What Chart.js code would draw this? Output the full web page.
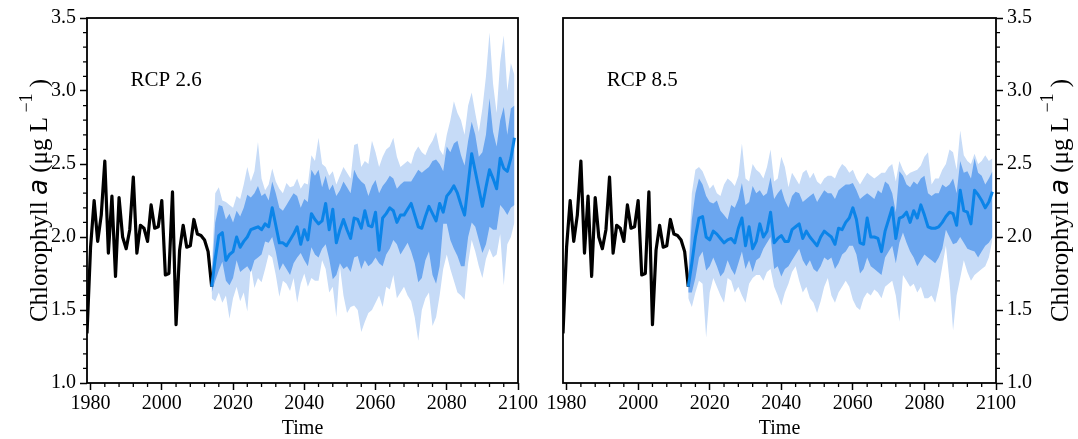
<!doctype html>
<html lang="en">
<head>
<meta charset="utf-8">
<title>Chlorophyll a, RCP 2.6 / RCP 8.5</title>
<script src="https://cdn.jsdelivr.net/npm/chart.js@4.4.1/dist/chart.umd.min.js"></script>
<style>
  body { margin: 0; background: #fff; }
  #wrap { position: relative; width: 1078px; height: 439px; }
  canvas { position: absolute; top: 0; }
  #left { left: 0; }
  #right { left: 538px; }
</style>
</head>
<body>
<div id="wrap">
  <canvas id="left" width="540" height="439"></canvas>
  <canvas id="right" width="540" height="439"></canvas>
</div>
<script>
// observed annual chlorophyll a, 1979-2014
const histStart = 1979;
const histChl = [1.34, 1.93, 2.25, 1.97, 2.15, 2.52, 1.89, 2.28, 1.73, 2.27,
                 2.00, 1.92, 2.05, 2.41, 1.89, 2.08, 2.06, 1.97, 2.22, 2.06,
                 2.07, 2.25, 1.74, 1.75, 2.31, 1.40, 1.91, 2.08, 1.93, 1.94,
                 2.12, 2.02, 2.01, 1.98, 1.90, 1.66];

// projections, 2014-2099
const projStart = 2014;

const rcp26Mean = [1.66, 1.85, 2.01, 2.03, 1.84, 1.88, 1.90, 2.00, 1.93, 1.97,
  2.00, 2.05, 2.06, 2.07, 2.05, 2.09, 2.07, 2.20, 2.08, 1.96,
  1.96, 1.94, 1.98, 2.02, 2.07, 1.95, 2.05, 1.98, 2.16, 2.12,
  2.09, 2.11, 2.23, 2.05, 2.19, 1.96, 2.05, 2.12, 2.05, 1.99,
  2.13, 2.12, 2.06, 2.18, 2.08, 2.07, 2.17, 1.91, 2.13, 2.16,
  2.20, 2.18, 2.10, 2.15, 2.15, 2.19, 2.23, 2.15, 2.07, 2.06,
  2.14, 2.21, 2.16, 2.11, 2.23, 2.17, 2.28, 2.31, 2.35, 2.30,
  2.22, 2.15, 2.36, 2.57, 2.45, 2.33, 2.21, 2.34, 2.46, 2.40,
  2.33, 2.54, 2.47, 2.45, 2.54, 2.68];
const rcp26InnerHi = [1.72, 2.10, 2.22, 2.21, 2.12, 2.16, 2.10, 2.18, 2.14, 2.20,
  2.29, 2.27, 2.30, 2.35, 2.28, 2.30, 2.25, 2.38, 2.30, 2.20,
  2.18, 2.22, 2.26, 2.30, 2.28, 2.20, 2.26, 2.24, 2.46, 2.42,
  2.46, 2.34, 2.42, 2.32, 2.36, 2.28, 2.32, 2.38, 2.34, 2.30,
  2.46, 2.41, 2.38, 2.36, 2.28, 2.35, 2.39, 2.30, 2.35, 2.38,
  2.42, 2.40, 2.33, 2.36, 2.38, 2.38, 2.38, 2.42, 2.46, 2.44,
  2.46, 2.48, 2.52, 2.53, 2.50, 2.45, 2.62, 2.58, 2.64, 2.66,
  2.56, 2.49, 2.66, 2.79, 2.70, 2.55, 2.58, 2.70, 2.95, 2.72,
  2.62, 2.80, 2.89, 2.70, 2.88, 2.90];
const rcp26InnerLo = [1.62, 1.70, 1.77, 1.83, 1.70, 1.67, 1.72, 1.84, 1.76, 1.78,
  1.80, 1.76, 1.84, 1.86, 1.88, 1.97, 1.96, 2.00, 1.90, 1.77,
  1.82, 1.78, 1.74, 1.82, 1.86, 1.89, 1.84, 1.80, 1.93, 1.88,
  1.86, 1.92, 1.95, 1.85, 1.71, 1.74, 1.82, 1.78, 1.80, 1.76,
  1.86, 1.87, 1.78, 1.84, 1.80, 1.82, 1.86, 1.82, 1.80, 1.88,
  1.92, 1.98, 1.95, 1.88, 1.92, 1.96, 1.90, 1.82, 1.69, 1.72,
  1.84, 1.90, 1.74, 1.68, 1.80, 2.09, 2.09, 1.98, 1.92, 1.87,
  1.80, 1.80, 2.00, 2.10, 2.07, 1.98, 1.89, 1.95, 2.07, 2.05,
  2.05, 2.22, 2.19, 2.15, 2.20, 2.22];
const rcp26OuterHi = [1.76, 2.30, 2.34, 2.25, 2.24, 2.22, 2.20, 2.28, 2.26, 2.36,
  2.48, 2.38, 2.45, 2.65, 2.40, 2.32, 2.36, 2.47, 2.38, 2.33,
  2.30, 2.37, 2.34, 2.35, 2.40, 2.33, 2.37, 2.36, 2.56, 2.52,
  2.68, 2.50, 2.48, 2.42, 2.45, 2.36, 2.42, 2.48, 2.44, 2.40,
  2.63, 2.64, 2.48, 2.52, 2.50, 2.66, 2.58, 2.48, 2.55, 2.60,
  2.62, 2.68, 2.55, 2.48, 2.50, 2.52, 2.50, 2.58, 2.62, 2.58,
  2.56, 2.62, 2.66, 2.72, 2.60, 2.56, 2.70, 2.80, 2.93, 2.85,
  2.80, 2.70, 2.90, 2.99, 2.85, 2.72, 2.88, 3.10, 3.40, 3.05,
  2.85, 3.20, 3.38, 3.00, 3.19, 3.11];
const rcp26OuterLo = [1.58, 1.56, 1.62, 1.55, 1.60, 1.44, 1.58, 1.66, 1.56, 1.62,
  1.49, 1.80, 1.65, 1.72, 1.69, 1.78, 1.88, 1.86, 1.74, 1.59,
  1.70, 1.68, 1.63, 1.72, 1.55, 1.68, 1.75, 1.66, 1.72, 1.70,
  1.70, 1.84, 1.78, 1.62, 1.66, 1.45, 1.80, 1.60, 1.48, 1.52,
  1.53, 1.50, 1.35, 1.42, 1.48, 1.50, 1.55, 1.60, 1.52, 1.66,
  1.64, 1.74, 1.58, 1.62, 1.66, 1.60, 1.56, 1.45, 1.29, 1.50,
  1.58, 1.62, 1.39, 1.45, 1.60, 1.78, 1.88, 1.78, 1.70, 1.62,
  1.60, 1.57, 1.82, 1.98, 1.90, 1.80, 1.72, 1.85, 1.92, 1.86,
  1.88, 2.02, 1.67, 1.95, 2.00, 2.10];

const rcp85Mean = [1.66, 1.82, 2.00, 2.13, 2.14, 2.00, 1.98, 2.04, 2.02, 1.99,
  1.96, 1.98, 1.99, 1.96, 2.06, 2.13, 1.94, 2.07, 1.92, 1.97,
  2.09, 2.00, 2.04, 2.17, 1.96, 1.99, 2.01, 1.97, 1.97, 2.05,
  2.07, 2.09, 1.99, 2.04, 2.00, 1.97, 1.94, 2.00, 2.04, 2.02,
  2.00, 1.95, 2.06, 2.05, 2.10, 2.13, 2.20, 2.12, 1.96, 1.95,
  2.13, 2.00, 2.00, 1.99, 1.90, 2.04, 2.12, 2.20, 1.99, 2.13,
  2.14, 2.17, 2.10, 2.18, 2.13, 2.22, 2.15, 2.07, 2.06, 2.06,
  2.07, 2.10, 2.14, 2.17, 2.16, 2.08, 2.32, 2.18, 2.17, 2.09,
  2.32, 2.29, 2.25, 2.20, 2.24, 2.31];
const rcp85InnerHi = [1.72, 2.12, 2.30, 2.40, 2.36, 2.28, 2.24, 2.23, 2.25, 2.18,
  2.15, 2.12, 2.22, 2.20, 2.26, 2.37, 2.22, 2.24, 2.35, 2.30,
  2.32, 2.28, 2.30, 2.41, 2.26, 2.30, 2.33, 2.25, 2.20, 2.28,
  2.31, 2.30, 2.24, 2.26, 2.28, 2.30, 2.24, 2.28, 2.32, 2.30,
  2.30, 2.26, 2.32, 2.34, 2.36, 2.36, 2.37, 2.32, 2.26, 2.28,
  2.30, 2.28, 2.26, 2.32, 2.30, 2.38, 2.36, 2.30, 2.17, 2.45,
  2.42, 2.36, 2.34, 2.38, 2.36, 2.40, 2.42, 2.30, 2.28, 2.30,
  2.30, 2.36, 2.34, 2.36, 2.40, 2.30, 2.52, 2.44, 2.45, 2.40,
  2.54, 2.44, 2.42, 2.36, 2.40, 2.45];
const rcp85InnerLo = [1.62, 1.62, 1.72, 1.86, 1.90, 1.77, 1.80, 1.86, 1.80, 1.73,
  1.76, 1.84, 1.78, 1.74, 1.82, 1.90, 1.78, 1.84, 1.76, 1.84,
  1.86, 1.92, 1.96, 2.00, 1.78, 1.80, 1.73, 1.78, 1.80, 1.84,
  1.88, 1.92, 1.84, 1.80, 1.84, 1.78, 1.76, 1.80, 1.86, 1.84,
  1.86, 1.78, 1.82, 1.88, 1.90, 1.94, 1.94, 1.88, 1.75, 1.78,
  1.86, 1.80, 1.78, 1.76, 1.74, 1.86, 1.90, 1.94, 1.82, 1.96,
  2.03, 1.96, 1.90, 1.86, 1.80, 1.84, 1.88, 1.86, 1.84, 1.82,
  1.86, 1.92, 2.05, 2.00, 1.95, 1.96, 2.00, 1.96, 1.92, 1.91,
  1.90, 1.86, 1.90, 1.94, 1.96, 2.00];
const rcp85OuterHi = [1.76, 2.30, 2.46, 2.48, 2.45, 2.39, 2.33, 2.36, 2.30, 2.28,
  2.36, 2.40, 2.38, 2.35, 2.42, 2.64, 2.40, 2.38, 2.50, 2.46,
  2.44, 2.40, 2.48, 2.60, 2.38, 2.40, 2.55, 2.48, 2.34, 2.44,
  2.40, 2.36, 2.44, 2.46, 2.40, 2.44, 2.38, 2.36, 2.40, 2.42,
  2.42, 2.40, 2.46, 2.50, 2.48, 2.44, 2.46, 2.40, 2.36, 2.40,
  2.44, 2.42, 2.40, 2.42, 2.44, 2.44, 2.48, 2.50, 2.38, 2.52,
  2.46, 2.42, 2.44, 2.45, 2.46, 2.49, 2.55, 2.58, 2.36, 2.40,
  2.40, 2.46, 2.50, 2.60, 2.58, 2.46, 2.73, 2.56, 2.52, 2.50,
  2.57, 2.50, 2.52, 2.56, 2.52, 2.54];
const rcp85OuterLo = [1.58, 1.52, 1.62, 1.70, 1.68, 1.31, 1.62, 1.72, 1.66, 1.60,
  1.55, 1.72, 1.70, 1.62, 1.66, 1.60, 1.55, 1.68, 1.72, 1.74,
  1.74, 1.70, 1.76, 1.78, 1.66, 1.60, 1.53, 1.62, 1.68, 1.76,
  1.80, 1.70, 1.62, 1.66, 1.58, 1.55, 1.48, 1.56, 1.66, 1.72,
  1.60, 1.55, 1.62, 1.66, 1.70, 1.66, 1.57, 1.52, 1.50, 1.58,
  1.62, 1.60, 1.64, 1.62, 1.58, 1.66, 1.68, 1.70, 1.60, 1.42,
  1.74, 1.70, 1.66, 1.68, 1.62, 1.66, 1.58, 1.58, 1.60, 1.55,
  1.66, 1.80, 1.94, 1.70, 1.36, 1.60, 1.72, 1.84, 1.76, 1.70,
  1.74, 1.76, 1.78, 1.80, 1.86, 1.98];

// axis ticks
const xMajor = [1980, 2000, 2020, 2040, 2060, 2080, 2100];
const xMinor = [1984, 1988, 1992, 1996, 2004, 2008, 2012, 2016, 2024, 2028, 2032, 2036,
                2044, 2048, 2052, 2056, 2064, 2068, 2072, 2076, 2084, 2088, 2092, 2096];
const yMajor = [1.0, 1.5, 2.0, 2.5, 3.0, 3.5];
const yMinor = [1.1, 1.2, 1.3, 1.4, 1.6, 1.7, 1.8, 1.9, 2.1, 2.2, 2.3, 2.4,
                2.6, 2.7, 2.8, 2.9, 3.1, 3.2, 3.3, 3.4];

const SERIF = '"Liberation Serif", "Times New Roman", serif';
const LIGHT = '#c6dbf7';
const DARK = '#6ba6ef';
const BLUE = '#0b84e8';

function toPoints(start, vals) {
  return vals.map((v, i) => ({ x: start + i, y: v }));
}

// y axis title with italic "a" and a superscript unit exponent
function drawYTitle(ctx, cx, cy) {
  const parts = [
    { t: 'Chlorophyll ', f: '25px ' + SERIF, dy: 0 },
    { t: 'a', f: 'italic 26px "DejaVu Sans", sans-serif', dy: 0 },
    { t: ' (\u03bcg L', f: '25px ' + SERIF, dy: 0 },
    { t: ' \u22121', f: '18px ' + SERIF, dy: -13 },
    { t: ' )', f: '25px ' + SERIF, dy: 0 }
  ];
  let total = 0;
  parts.forEach(p => { ctx.font = p.f; p.w = ctx.measureText(p.t).width; total += p.w; });
  ctx.save();
  ctx.translate(cx, cy);
  ctx.rotate(-Math.PI / 2);
  ctx.fillStyle = '#000';
  ctx.textBaseline = 'middle';
  ctx.textAlign = 'left';
  let x = -total / 2;
  parts.forEach(p => { ctx.font = p.f; ctx.fillText(p.t, x, p.dy + 2); x += p.w; });
  ctx.restore();
}

function panelDecor(label, side) {
  return {
    id: 'panelDecor',
    afterDraw(chart) {
      const { ctx, chartArea: a, scales: { x, y } } = chart;
      ctx.save();
      ctx.strokeStyle = '#000';
      ctx.lineWidth = 1.3;
      ctx.beginPath();
      xMinor.forEach(v => {
        const px = x.getPixelForValue(v);
        ctx.moveTo(px, a.bottom);
        ctx.lineTo(px, a.bottom + 4);
      });
      yMinor.forEach(v => {
        const py = y.getPixelForValue(v);
        if (side === 'left') { ctx.moveTo(a.left, py); ctx.lineTo(a.left - 4, py); }
        else { ctx.moveTo(a.right, py); ctx.lineTo(a.right + 4, py); }
      });
      ctx.stroke();

      ctx.lineWidth = 1.8;
      ctx.strokeRect(a.left, a.top, a.right - a.left, a.bottom - a.top);

      ctx.fillStyle = '#000';
      ctx.font = '21px ' + SERIF;
      ctx.textBaseline = 'middle';
      ctx.textAlign = 'left';
      ctx.fillText(label, x.getPixelForValue(1991.2), y.getPixelForValue(3.07));

      drawYTitle(ctx, side === 'left' ? 38 : chart.width - 19, (a.top + a.bottom) / 2);
      ctx.restore();
    }
  };
}

function makePanel(id, side, label, mean, innerHi, innerLo, outerHi, outerLo) {
  const tickFont = { family: SERIF, size: 20 };
  const band = (vals, color, fill) => ({
    data: toPoints(projStart, vals),
    borderWidth: 0,
    pointRadius: 0,
    backgroundColor: color,
    fill: fill
  });
  return new Chart(document.getElementById(id), {
    type: 'line',
    data: {
      datasets: [
        { data: toPoints(projStart, mean), borderColor: BLUE, borderWidth: 3,
          pointRadius: 0, fill: false, borderJoinStyle: 'round' },
        { data: toPoints(histStart, histChl), borderColor: '#000', borderWidth: 3.2,
          pointRadius: 0, fill: false, borderJoinStyle: 'round' },
        band(innerHi, DARK, '+1'),
        band(innerLo, DARK, false),
        band(outerHi, LIGHT, '+1'),
        band(outerLo, LIGHT, false)
      ]
    },
    options: {
      responsive: false,
      animation: false,
      events: [],
      layout: { padding: side === 'left'
        ? { left: 0, right: 22, top: 18, bottom: 0 }
        : { left: 25, right: 0, top: 18, bottom: 0 } },
      plugins: {
        legend: { display: false },
        tooltip: { enabled: false },
        filler: { drawTime: 'beforeDatasetsDraw' }
      },
      scales: {
        x: {
          type: 'linear', min: 1979, max: 2100,
          afterBuildTicks: s => { s.ticks = xMajor.map(v => ({ value: v })); },
          afterFit: s => { s.height = 56; },
          ticks: { color: '#000', font: tickFont, padding: 2, maxRotation: 0,
                   autoSkip: false, callback: v => String(v) },
          grid: { drawOnChartArea: false, tickLength: 7, tickWidth: 1.5, tickColor: '#000' },
          border: { display: false },
          title: { display: true, text: 'Time', color: '#000',
                   font: { family: SERIF, size: 20, lineHeight: 1 },
                   padding: { top: 0, bottom: 0 } }
        },
        y: {
          type: 'linear', position: side, min: 1, max: 3.5,
          afterBuildTicks: s => { s.ticks = yMajor.map(v => ({ value: v })); },
          afterFit: s => { s.width = side === 'left' ? 87 : 82; },
          ticks: { color: '#000', font: tickFont, padding: 4,
                   callback: v => Number(v).toFixed(1) },
          grid: { drawOnChartArea: false, tickLength: 7, tickWidth: 1.5, tickColor: '#000' },
          border: { display: false }
        }
      }
    },
    plugins: [panelDecor(label, side)]
  });
}

makePanel('left', 'left', 'RCP 2.6', rcp26Mean, rcp26InnerHi, rcp26InnerLo, rcp26OuterHi, rcp26OuterLo);
makePanel('right', 'right', 'RCP 8.5', rcp85Mean, rcp85InnerHi, rcp85InnerLo, rcp85OuterHi, rcp85OuterLo);
</script>
</body>
</html>
